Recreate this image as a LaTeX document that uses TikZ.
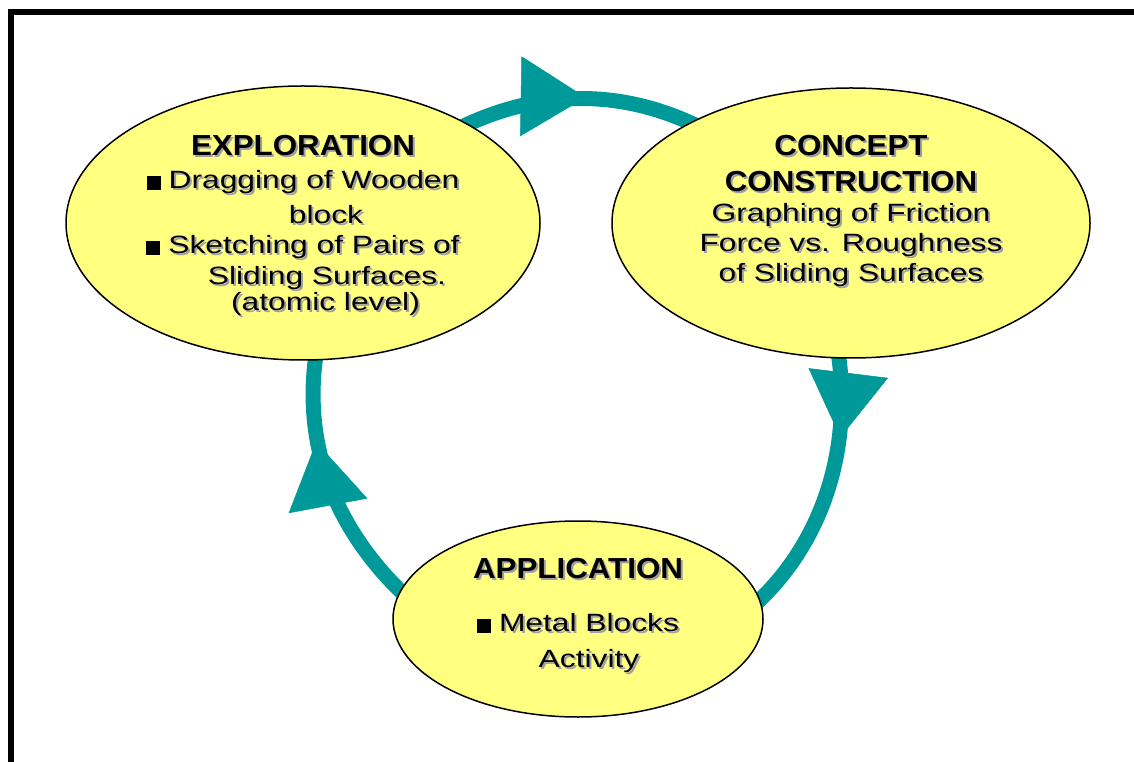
\documentclass[tikz,border=0pt]{standalone}
\usepackage{fontspec}
\usepackage{xcolor}
\usetikzlibrary{arrows.meta,shapes.geometric,decorations.markings,backgrounds}
\newfontfamily\bodyfont[FakeStretch=1.27]{Liberation Sans}
\newfontfamily\headfont[FakeStretch=1.08]{Liberation Sans}
\definecolor{phaseyellow}{RGB}{255,255,128}
\definecolor{cycleteal}{RGB}{0,153,153}
\definecolor{shadegray}{RGB}{160,160,160}
\newcommand{\shd}[1]{\leavevmode\rlap{\raisebox{-2pt}{\hspace*{2pt}\textcolor{shadegray}{#1}}}#1}
\newcommand{\ttl}[1]{{\headfont\bfseries\fontsize{29}{36}\selectfont\shd{#1}}}
\newcommand{\sqb}{\rule[-1pt]{14pt}{14pt}\hspace*{8pt}}

\begin{document}
\begin{tikzpicture}[x=1pt, y=1pt,
    phase/.style={ellipse, draw, line width=1.5pt, fill=phaseyellow, inner sep=0pt},
    txt/.style={align=center, inner sep=0pt, font=\bodyfont\fontsize{25}{30}\selectfont},
    cyc/.style={draw, color=cycleteal, line width=15pt, shorten <=-10pt, shorten >=-10pt},
    tipat/.style={postaction={decorate, decoration={markings,
        mark=at position #1 with {\arrow{Triangle[length=65pt, width=80pt, line width=0.5pt]}}}}}
]
\useasboundingbox (0,0) rectangle (1134,761);

% frame
\draw[line width=5.5pt] (11,-10) -- (11,749) -- (1150,749);

% phases
\node[phase, minimum width=474pt, minimum height=274pt] (expl) at (303,538) {};
\node[phase, minimum width=478pt, minimum height=270pt] (conc) at (851,538) {};
\node[phase, minimum width=370pt, minimum height=196pt] (appl) at (578,142) {};

\node[txt] (expl-t) at ([yshift=-3.5pt]expl.center) {\ttl{EXPLORATION}\\[3pt]
  \sqb\shd{Dragging of Wooden}\\[5pt]
  \hspace*{46pt}\shd{block}\\
  \sqb\shd{Sketching of Pairs of}\\[1pt]
  \hspace*{48pt}\shd{Sliding Surfaces.}\\[-4pt]
  \hspace*{45pt}\shd{(atomic level)}};
\node[txt] (conc-t) at ([yshift=11pt]conc.center) {\ttl{CONCEPT}\\[6pt]
  \ttl{CONSTRUCTION}\\
  \shd{Graphing of Friction}\\
  \shd{Force vs. Roughness}\\
  \shd{of Sliding Surfaces}};
\node[txt] (appl-t) at ([yshift=2.5pt]appl.center) {\ttl{APPLICATION}\\[23pt]
  \sqb\shd{Metal Blocks}\\[6pt]
  \hspace*{22pt}\shd{Activity}};

% cycle
\begin{scope}[on background layer]
\draw[cyc, tipat=0.53] (expl.31) to[out=26, in=154, looseness=0.9] (conc.148);
\draw[cyc, tipat=0.30] (conc.265) to[out=-81, in=42, looseness=0.88] (appl.6);
\draw[cyc, tipat=0.68] (appl.171) to[out=137, in=-99, looseness=0.91] (expl.275);
\end{scope}
\end{tikzpicture}
\end{document}
